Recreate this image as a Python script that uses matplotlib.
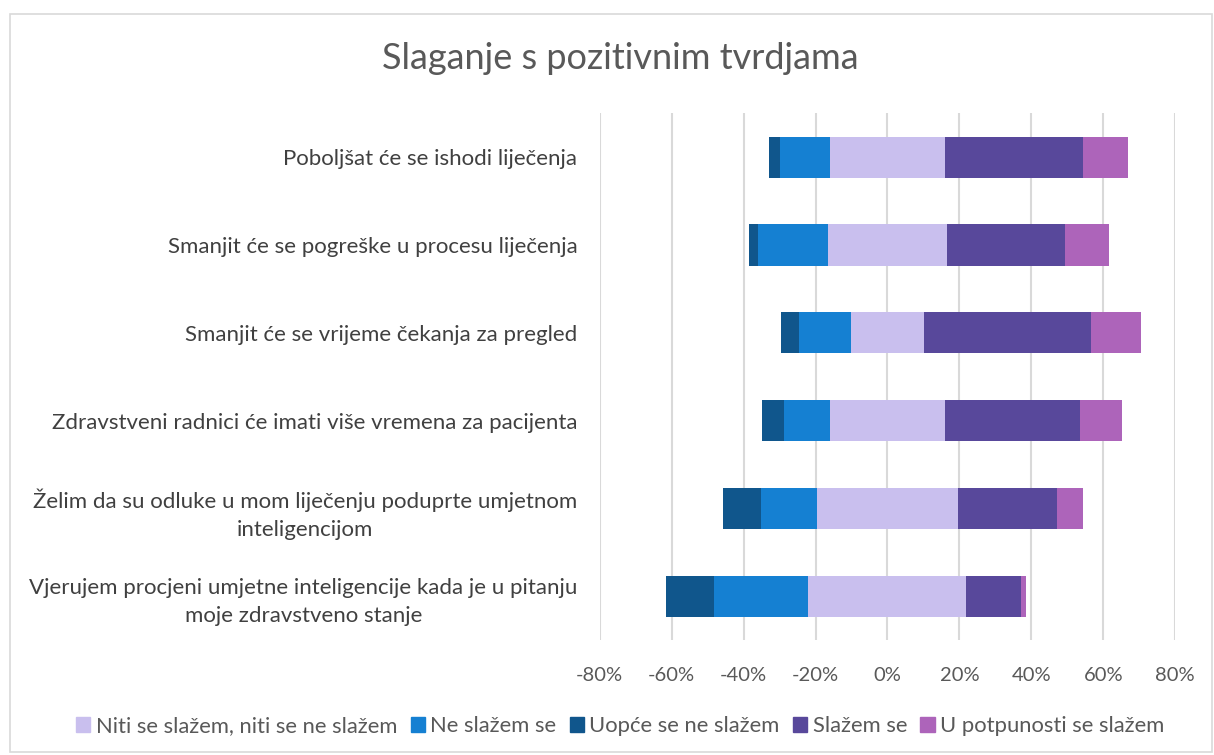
import matplotlib
matplotlib.use("Agg")
import matplotlib.pyplot as plt
from matplotlib.patches import Rectangle, Patch
from matplotlib.ticker import FuncFormatter

plt.rcParams['font.family'] = ['Lato', 'DejaVu Sans']

categories = [
    "Poboljšat će se ishodi liječenja",
    "Smanjit će se pogreške u procesu liječenja",
    "Smanjit će se vrijeme čekanja za pregled",
    "Zdravstveni radnici će imati više vremena za pacijenta",
    "Želim da su odluke u mom liječenju poduprte umjetnom\ninteligencijom",
    "Vjerujem procjeni umjetne inteligencije kada je u pitanju\nmoje zdravstveno stanje",
]
series_names = ["Niti se slažem, niti se ne slažem", "Ne slažem se",
                "Uopće se ne slažem", "Slažem se", "U potpunosti se slažem"]
neutral = [32.1, 33.2, 20.4, 32.1, 39.1, 43.9]
disagree = [13.7, 19.3, 14.4, 12.7, 15.5, 26.2]
strongly_disagree = [3.2, 2.7, 5.1, 6.1, 10.8, 13.5]
agree = [38.2, 32.9, 46.5, 37.4, 27.7, 15.3]
strongly_agree = [12.7, 12.2, 13.7, 11.8, 7.0, 1.2]
tick_values = [-80, -60, -40, -20, 0, 20, 40, 60, 80]

colors = {
    "neutral": "#C9BFEE",
    "disagree": "#1580D2",
    "sdisagree": "#10568C",
    "agree": "#58489B",
    "sagree": "#AD64BA",
}

fig = plt.figure(figsize=(12.14, 7.55), dpi=100)
fig.patches.append(Rectangle((0.008, 0.004), 0.99, 0.978, transform=fig.transFigure,
                             fill=False, edgecolor="#D9D9D9", linewidth=1.2))
ax = fig.add_axes([0.494, 0.152, 0.474, 0.698])

y = list(range(len(categories)))[::-1]
h = 0.47
half = [n / 2 for n in neutral]
neg_half = [-v for v in half]

ax.barh(y, neutral, left=neg_half, height=h, color=colors["neutral"], zorder=3)
left_dis = [-(hh + d) for hh, d in zip(half, disagree)]
ax.barh(y, disagree, left=left_dis, height=h, color=colors["disagree"], zorder=3)
left_sd = [l - s for l, s in zip(left_dis, strongly_disagree)]
ax.barh(y, strongly_disagree, left=left_sd, height=h, color=colors["sdisagree"], zorder=3)
ax.barh(y, agree, left=half, height=h, color=colors["agree"], zorder=3)
left_sa = [hh + a for hh, a in zip(half, agree)]
ax.barh(y, strongly_agree, left=left_sa, height=h, color=colors["sagree"], zorder=3)

ax.set_xlim(-80, 80)
ax.set_ylim(-0.5, 5.5)
ax.set_xticks(tick_values)
ax.xaxis.set_major_formatter(FuncFormatter(lambda v, p: f"{int(round(v))}%"))
ax.set_yticks(y)
ax.set_yticklabels(categories, fontsize=16, color="#404040", linespacing=1.5)
ax.tick_params(axis='y', length=0, pad=16)
ax.tick_params(axis='x', length=0, pad=19, labelsize=14.5, labelcolor="#595959")
for lab in ax.get_yticklabels():
    lab.set_horizontalalignment('right')
    lab.set_multialignment('center')
for s in ax.spines.values():
    s.set_visible(False)
ax.grid(axis='x', color="#D9D9D9", linewidth=1.5, zorder=0)
ax.set_axisbelow(True)

fig.text(0.511, 0.922, "Slaganje s pozitivnim tvrdjama", ha='center', va='center',
         fontsize=26, color="#595959")

handles = [Patch(color=colors[k]) for k in ["neutral", "disagree", "sdisagree", "agree", "sagree"]]
fig.legend(handles, series_names, loc='center', bbox_to_anchor=(0.511, 0.038), ncol=5,
           frameon=False, fontsize=15.8, handlelength=0.65, handleheight=0.65,
           handletextpad=0.25, columnspacing=0.6, labelcolor="#595959")

fig.savefig("out.png", dpi=100)
